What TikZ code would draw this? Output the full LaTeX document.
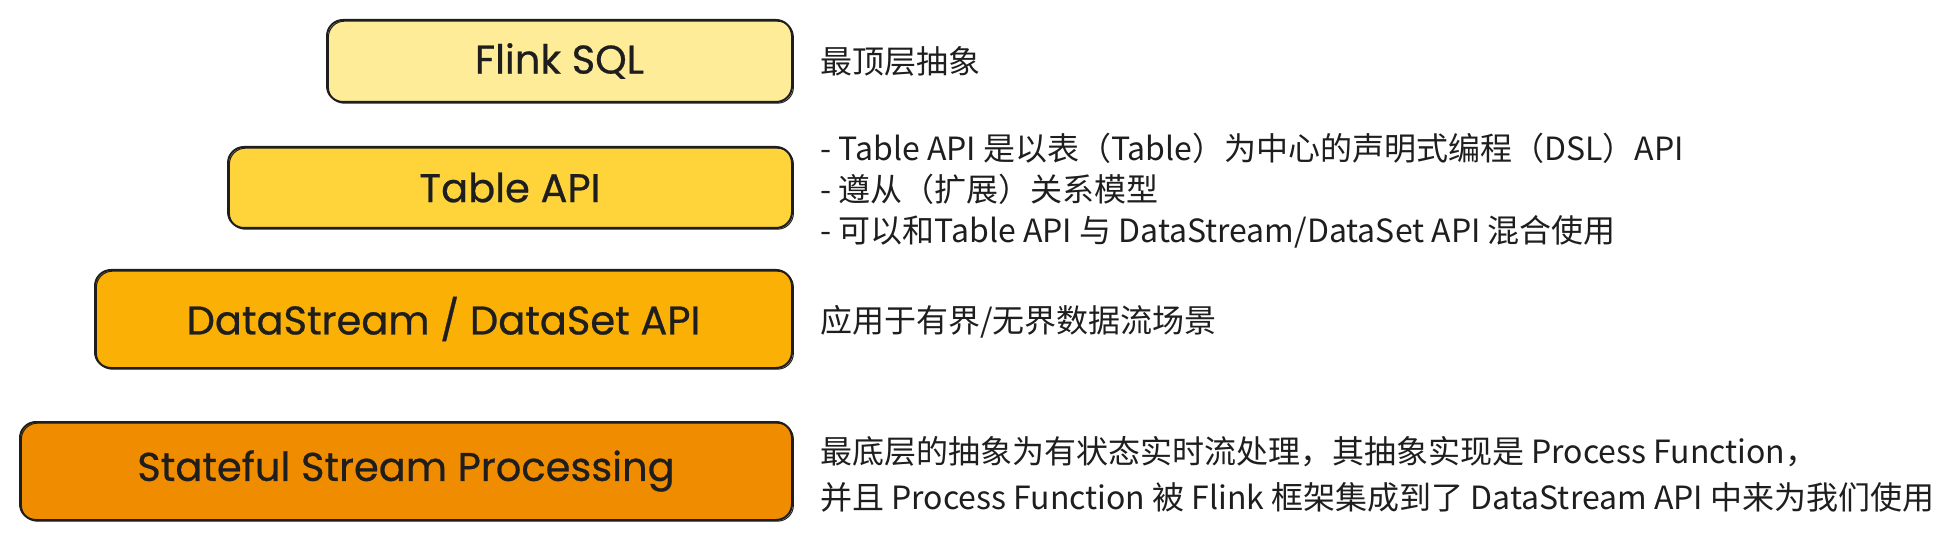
\documentclass[tikz,border=0pt]{standalone}
\usepackage{fontspec}
\setmainfont{Noto Sans CJK SC}
\newfontfamily\handfont{Poppins}[FakeBold=0.6]
\usetikzlibrary{positioning}
\definecolor{inkblack}{HTML}{1E1E1E}
\definecolor{sqlyellow}{HTML}{FFEC99}
\definecolor{tableyellow}{HTML}{FFD43B}
\definecolor{streamamber}{HTML}{FAB005}
\definecolor{stateorange}{HTML}{F08C00}

\begin{document}
\begin{tikzpicture}[x=0.5pt, y=-0.5pt,
  layer/.style={draw=inkblack, line width=1pt, rounded corners=8pt, inner sep=0pt,
    font=\handfont\fontsize{20}{24}\selectfont, text=inkblack,
    postaction={draw=inkblack, line width=0.5pt, transform canvas={shift={(0.7pt,-0.6pt)}}}},
  note/.style={font=\fontsize{16}{20.5}\selectfont, text=inkblack, align=left, inner sep=0pt}]
  \useasboundingbox (0,0) rectangle (1957,539);

  % Layers, top to bottom
  \node[layer, fill=sqlyellow, minimum width=232.5pt, minimum height=41pt] (sql) at (559.5, 61) {Flink SQL};
  \node[layer, fill=tableyellow, minimum width=282pt, minimum height=40.5pt] (table) at (510, 187.5) {Table API};
  \node[layer, fill=streamamber, minimum width=348.5pt, minimum height=49pt] (stream) at (443.5, 319) {DataStream / DataSet API};
  \node[layer, fill=stateorange, minimum width=386pt, minimum height=49pt] (state) at (406, 471) {Stateful Stream Processing};

  % Notes on the right
  \node[note, right=13.5pt of sql] (sqlnote) {最顶层抽象};
  \node[note, right=13.5pt of table, yshift=-1.5pt] (tablenote) {- Table API 是以表（Table）为中心的声明式编程（DSL）API\\- 遵从（扩展）关系模型\\- 可以和Table API 与 DataStream/DataSet API 混合使用};
  \node[note, right=13.5pt of stream, yshift=-1.5pt] (streamnote) {应用于有界/无界数据流场景};
  \node[note, right=13.5pt of state, yshift=-1.5pt, font=\fontsize{16}{23}\selectfont] (statenote) {最底层的抽象为有状态实时流处理，其抽象实现是 Process Function，\\并且 Process Function 被 Flink 框架集成到了 DataStream API 中来为我们使用};
\end{tikzpicture}
\end{document}
